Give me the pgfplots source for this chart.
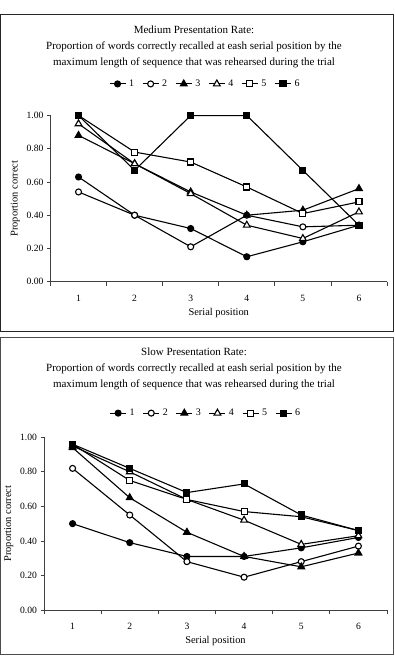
\documentclass[border=0pt]{standalone}
\usepackage{fontspec}
\setmainfont{Liberation Serif}
\usepackage{pgfplots}
\pgfplotsset{compat=1.18}
\pgfplotsset{
  panel/.style={
    scale only axis, anchor=south west,
    xmin=0.5, xmax=6.5, ymin=0, ymax=1,
    axis lines*=left,
    axis line style={black!75, line width=0.8pt},
    xtick={1,2,3,4,5,6},
    minor xtick={0.5,1.5,2.5,3.5,4.5,5.5,6.5},
    ytick={0,0.2,0.4,0.6,0.8,1},
    tick align=outside,
    major tick length=3.5pt, minor tick length=4pt,
    major x tick style={draw=none},
    every tick/.style={black!75, line width=0.8pt},
    minor x tick style={black!75, line width=0.8pt},
    /pgf/number format/assume math mode=true,
    y tick label style={/pgf/number format/.cd, fixed, fixed zerofill, precision=2, /tikz/.cd},
    tick label style={font=\fontsize{9.6}{10}\selectfont},
    x tick label style={yshift=-6pt},
    label style={font=\fontsize{10.4}{12}\selectfont},
    xlabel={Serial position},
    ylabel={Proportion correct},
    legend columns=6,
    legend style={draw=none, fill=none, font=\fontsize{10}{11}\selectfont,
      /tikz/every even column/.append style={column sep=6pt},
      /tikz/every odd column/.append style={column sep=1pt},
      inner sep=0pt},
    legend image code/.code={\draw[mark repeat=2,mark phase=2] plot coordinates {(0pt,0pt) (8pt,0pt) (16pt,0pt)};},
    every axis plot/.append style={black, line width=1.1pt, mark options={solid, line width=0.7pt}},
  },
  s1/.style={mark=*, mark size=3pt, mark options={fill=black}},
  s2/.style={mark=*, mark size=3pt, mark options={fill=white}},
  s3/.style={mark=triangle*, mark size=3.9pt, mark options={fill=black}},
  s4/.style={mark=triangle*, mark size=3.9pt, mark options={fill=white}},
  s5/.style={mark=square*, mark size=3pt, mark options={fill=white}},
  s6/.style={mark=square*, mark size=3pt, mark options={fill=black}},
}
\begin{document}
\begin{tikzpicture}
\useasboundingbox (0pt,0pt) rectangle (395pt,661pt);
% panel boxes
\draw[black!85, line width=0.9pt] (0.6pt,646.5pt) rectangle (393.6pt,330pt);
\draw[black!70, line width=0.9pt] (0.6pt,324pt) rectangle (393.6pt,7pt);
% titles
\node[align=center, font=\fontsize{11}{16}\selectfont] at (194pt,614pt) {Medium Presentation Rate:\\Proportion of words correctly recalled at eash serial position by the\\maximum length of sequence that was rehearsed during the trial};
\node[align=center, font=\fontsize{11}{16}\selectfont] at (194pt,292pt) {Slow Presentation Rate:\\Proportion of words correctly recalled at eash serial position by the\\maximum length of sequence that was rehearsed during the trial};

\begin{axis}[panel, at={(50.5pt,379.3pt)}, width=336.5pt, height=166.2pt,
  legend style={at={(axis description cs:0.46,1.19)}, anchor=center}]
\addplot[s1] coordinates {(1,0.63) (2,0.40) (3,0.32) (4,0.15) (5,0.24) (6,0.34)};
\addplot[s2] coordinates {(1,0.54) (2,0.40) (3,0.21) (4,0.40) (5,0.33) (6,0.34)};
\addplot[s3] coordinates {(1,0.88) (2,0.71) (3,0.54) (4,0.40) (5,0.43) (6,0.56)};
\addplot[s4] coordinates {(1,0.95) (2,0.71) (3,0.53) (4,0.34) (5,0.26) (6,0.42)};
\addplot[s5] coordinates {(1,1.00) (2,0.78) (3,0.72) (4,0.57) (5,0.41) (6,0.48)};
\addplot[s6] coordinates {(1,1.00) (2,0.67) (3,1.00) (4,1.00) (5,0.67) (6,0.34)};
\legend{1,2,3,4,5,6}
\end{axis}

\begin{axis}[panel, at={(44pt,51pt)}, width=343pt, height=172.7pt,
  legend style={at={(axis description cs:0.472,1.14)}, anchor=center}]
\addplot[s1] coordinates {(1,0.50) (2,0.39) (3,0.31) (4,0.31) (5,0.36) (6,0.42)};
\addplot[s2] coordinates {(1,0.82) (2,0.55) (3,0.28) (4,0.19) (5,0.28) (6,0.37)};
\addplot[s3] coordinates {(1,0.94) (2,0.65) (3,0.45) (4,0.31) (5,0.25) (6,0.33)};
\addplot[s4] coordinates {(1,0.95) (2,0.80) (3,0.64) (4,0.52) (5,0.38) (6,0.43)};
\addplot[s5] coordinates {(1,0.96) (2,0.75) (3,0.64) (4,0.57) (5,0.54) (6,0.46)};
\addplot[s6] coordinates {(1,0.96) (2,0.82) (3,0.68) (4,0.73) (5,0.55) (6,0.46)};
\legend{1,2,3,4,5,6}
\end{axis}
\end{tikzpicture}
\end{document}
